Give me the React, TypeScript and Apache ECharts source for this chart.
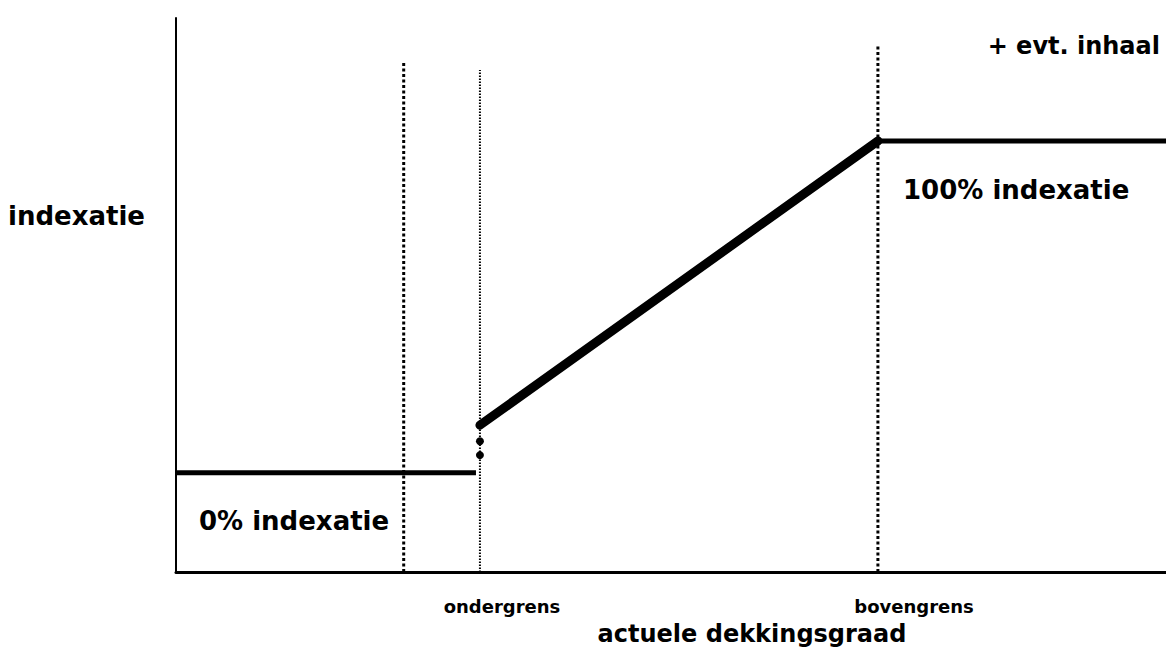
import React, { useEffect, useRef } from "react";
import * as echarts from "echarts";

// Schematic axes (arbitrary units 0..100)
const xRange = [0, 100];
const yRange = [0, 100];

// Vertical dotted reference lines: x position and top end
const refLineX = [23, 30.7, 70.9];
const refLineTop = [92.1, 90.6, 95.1];
const refLineWidth = [3, 2, 3];

// Indexation profile
const lowX = [0, 30.3];
const lowY = [17.9, 17.9];
const jumpDotX = [30.7, 30.7];
const jumpDotY = [21.1, 23.6];
const slopeX = [30.7, 70.9];
const slopeY = [26.5, 77.8];
const highX = [70.9, 100];
const highY = [77.8, 77.8];

const FONT = "'Comic Sans MS', 'DejaVu Sans', sans-serif";

const pts = (xs: number[], ys: number[]) => xs.map((x, i) => [x, ys[i]]);

export default function App() {
  const ref = useRef<HTMLDivElement>(null);
  useEffect(() => {
    if (!ref.current) return;
    const chart = echarts.init(ref.current, undefined, { renderer: "svg" });
    const series: any[] = [];
    refLineX.forEach((x, i) => {
      series.push({
        type: "line",
        data: [[x, 0], [x, refLineTop[i]]],
        symbol: "none",
        silent: true,
        lineStyle: { color: "#000", width: refLineWidth[i], type: i === 1 ? [1.5, 1.5] : [3, 2.5] },
      });
    });
    series.push({
      type: "line",
      data: pts(lowX, lowY),
      symbol: "none",
      lineStyle: { color: "#000", width: 5 },
    });
    series.push({
      type: "scatter",
      data: pts(jumpDotX, jumpDotY),
      symbol: "circle",
      symbolSize: 8,
      itemStyle: { color: "#000", opacity: 1 },
    });
    series.push({
      type: "line",
      data: pts(slopeX, slopeY),
      symbol: "none",
      lineStyle: { color: "#000", width: 9, cap: "round" },
    });
    series.push({
      type: "line",
      data: pts(highX, highY),
      symbol: "none",
      lineStyle: { color: "#000", width: 5 },
    });
    const txt = (x: number, y: number, text: string, size: number, align = "left") => ({
      type: "text",
      x,
      y,
      style: {
        text,
        fontSize: size,
        fontWeight: "bold",
        fontFamily: FONT,
        fill: "#000",
        align,
        verticalAlign: "middle",
      },
    });
    chart.setOption({
      animation: false,
      grid: { left: 176, right: 0, top: 18, bottom: 83 },
      xAxis: {
        type: "value",
        min: xRange[0],
        max: xRange[1],
        axisLine: { show: true, lineStyle: { color: "#000", width: 3 } },
        axisTick: { show: false },
        axisLabel: { show: false },
        splitLine: { show: false },
      },
      yAxis: {
        type: "value",
        min: yRange[0],
        max: yRange[1],
        axisLine: { show: true, lineStyle: { color: "#000", width: 2 } },
        axisTick: { show: false },
        axisLabel: { show: false },
        splitLine: { show: false },
      },
      series,
      graphic: [
        txt(8, 216, "indexatie", 26),
        txt(1160, 46, "+ evt. inhaal", 24, "right"),
        txt(903, 190, "100% indexatie", 26),
        txt(199, 521, "0% indexatie", 26),
        txt(502, 606, "ondergrens", 18, "center"),
        txt(914, 606, "bovengrens", 18, "center"),
        txt(752, 634, "actuele dekkingsgraad", 24, "center"),
      ],
    });
    return () => chart.dispose();
  }, []);
  return (
    <div
      ref={ref}
      style={{ position: "absolute", left: 0, top: 0, width: 1166, height: 655, background: "#fff" }}
    />
  );
}
